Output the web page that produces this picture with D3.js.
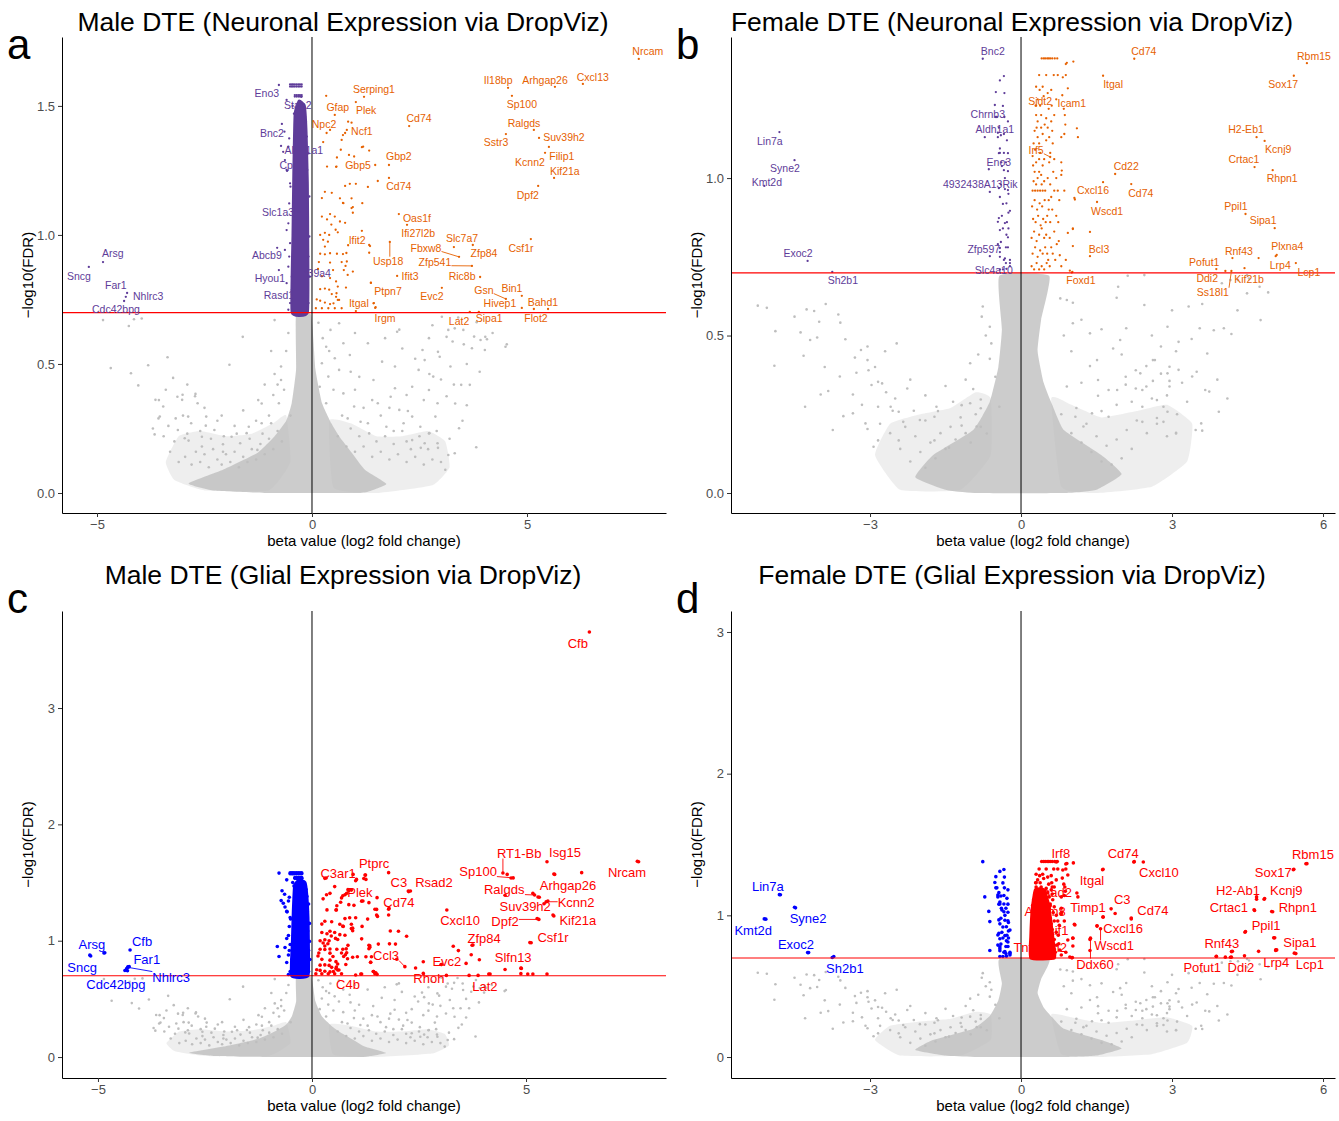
<!DOCTYPE html>
<html lang="en">
<head>
<meta charset="utf-8">
<title>DTE volcano plots</title>
<style>
  body { margin: 0; background: #fff; }
  svg { font-family: "Liberation Sans", Arial, sans-serif; }
  .tick text { fill: #4d4d4d; font-size: 13px; font-family: "Liberation Sans", Arial, sans-serif; }
  .tick line { stroke: #333; }
  .domain { stroke: #000; }
</style>
</head>
<body>
<script src="https://d3js.org/d3.v7.min.js"></script>
<script>

// ************** Data **************************************
var fdrCut = 0.2;

// male: genes not significant (grey)
var maleGrey = [
  [-4.86,0.67],[-4.26,0.647],[-4.14,0.673],[-3.96,0.676],[-3.36,0.526],[-3.81,0.495],[-4.68,0.484],[-4.21,0.464],
  [-3.23,0.446],[-4.04,0.417],[-1.92,0.497],[-3.56,0.36],[-3.46,0.335],[-3.13,0.373],[-3.01,0.381],[-2.71,0.384],
  [-2.66,0.348],[-3.54,0.296],[-3.34,0.26],[-3.66,0.227],[-2.88,0.296],[-2.81,0.27],[-3.12,0.244],[-2.46,0.296],
  [-2.27,0.244],[-2.56,0.218],[-2.96,0.212],[-1.87,0.218],[-1.47,0.257],[-1.17,0.27],[-0.77,0.348],[-0.72,0.438],
  [-0.87,0.67],[-0.72,0.49],[-1.27,0.167],[-1.67,0.193],[-2.07,0.16],[-2.56,0.18],[-1.61,0.605],[-3.64,0.361],
  [-3.57,0.289],[-3.17,0.289],[-3.02,0.361],[-2.72,0.375],[-2.87,0.203],[-2.47,0.261],[-2.07,0.189],[-1.52,0.232],
  [-1.17,0.347],[-0.87,0.461],[-0.55,0.62],[-0.6,0.55],[-0.65,0.40],[-0.5,0.30],[-1.0,0.30],[-1.3,0.28],
  [-1.8,0.26],[-2.2,0.28],[-0.95,0.55],[-1.1,0.42],
  [-2.95,0.14],[-2.8,0.11],[-2.7,0.16],[-2.6,0.12],[-2.5,0.15],[-2.4,0.10],[-2.3,0.17],[-2.2,0.13],[-2.1,0.11],
  [-2.0,0.15],[-1.9,0.12],[-1.8,0.16],[-1.7,0.10],[-1.6,0.14],[-1.5,0.12],[-1.4,0.17],[-1.3,0.13],[-1.2,0.19],
  [-1.1,0.15],[-1.0,0.21],[-0.9,0.17],[-0.8,0.24],[-0.7,0.2],[-3.2,0.2],[-3.3,0.16],[-3.1,0.12],[-2.9,0.23],
  [-2.6,0.24],[-2.35,0.21],[-2.05,0.22],[-1.75,0.23],[-1.45,0.21],[-1.15,0.23],[-0.95,0.27],[-3.45,0.22],
  [-3.7,0.25],[-3.0,0.30],[-2.5,0.33],[-2.1,0.30],[-1.6,0.32],[-1.25,0.36],[-0.9,0.38],[-0.8,0.42],[-3.4,0.40],
  [-2.9,0.42],
  [1.98,0.625],[3.02,0.683],[3.17,0.632],[3.32,0.638],[3.52,0.632],[3.77,0.606],[3.92,0.593],[4.07,0.596],
  [3.72,0.561],[4.02,0.554],[4.5,0.567],[3.27,0.587],[2.72,0.6],[2.57,0.554],[2.62,0.515],[2.97,0.528],
  [3.22,0.49],[3.67,0.419],[3.47,0.419],[2.82,0.451],[2.72,0.399],[2.92,0.348],[2.87,0.296],[3.42,0.251],
  [3.82,0.177],[3.32,0.154],[3.17,0.147],[2.92,0.193],[1.63,0.509],[1.43,0.438],[1.93,0.406],[1.83,0.373],
  [1.53,0.348],[2.33,0.412],[2.48,0.477],[2.03,0.322],[2.33,0.296],[2.13,0.27],[2.52,0.257],[2.72,0.231],
  [2.62,0.193],[2.33,0.205],[1.73,0.257],[1.33,0.231],[1.13,0.276],[0.83,0.289],[0.98,0.335],[0.73,0.386],
  [0.63,0.477],[0.88,0.535],[0.73,0.58],[0.43,0.632],[0.63,0.658],[0.33,0.567],[0.53,0.522],[0.23,0.503],
  [0.38,0.451],[0.18,0.412],[0.33,0.348],[2.03,0.633],[1.93,0.49],[2.23,0.318],[2.73,0.461],[2.93,0.547],
  [3.13,0.605],[3.53,0.576],[3.83,0.662],[4.03,0.605],[4.53,0.576],[3.33,0.347],[3.13,0.375],[2.93,0.175],
  [2.73,0.232],[2.53,0.175],[0.15,0.66],[0.25,0.60],[0.4,0.55],[0.5,0.40],[0.7,0.30],[1.0,0.40],
  [1.2,0.33],[1.6,0.30],[1.9,0.24],[2.2,0.20],
  [0.6,0.22],[0.8,0.18],[1.0,0.16],[1.2,0.18],[1.4,0.14],[1.6,0.16],[1.8,0.13],[2.0,0.15],[2.2,0.12],[2.4,0.14],
  [2.6,0.11],[2.8,0.13],[1.1,0.22],[1.5,0.20],[1.9,0.19],[2.3,0.17],[2.7,0.17],[3.0,0.12],[3.1,0.09],[0.9,0.25],
  [1.3,0.27],[1.7,0.22],[2.1,0.24],[2.5,0.22],[2.9,0.24],[3.2,0.21],[3.5,0.28],[3.6,0.34],[3.3,0.42],[3.0,0.44],
  [2.6,0.36],[2.2,0.38],[1.8,0.33],[1.4,0.36],[1.1,0.45],[0.9,0.47],[2.4,0.52],[2.1,0.56],[1.7,0.60],[1.3,0.58],
  [1.0,0.62],[3.6,0.50],[3.9,0.47],[4.2,0.62],[3.4,0.68],[2.8,0.65]
];
// male: outline of the solid grey mass and of the lighter wings
var maleCore = [[-0.37,0.69],[-0.02,0.69],[0.08,0.48],[0.23,0.35],[0.45,0.27],[0.63,0.22],[0.93,0.155],[1.23,0.09],
  [1.73,0.035],[1.3,0.005],[1.02,0.0],[-0.93,0.0],[-2.3,0.01],[-2.87,0.037],[-2.07,0.09],[-1.27,0.155],
  [-0.87,0.22],[-0.6,0.28],[-0.47,0.35],[-0.37,0.48]];
var maleHalo = [
  [[-3.4,0.12],[-3.1,0.22],[-2.6,0.24],[-2.0,0.22],[-1.4,0.23],[-0.9,0.27],[-0.6,0.3],[-0.5,0.12],[-1.0,0.01],
   [-2.5,0.01],[-3.2,0.05]],
  [[0.4,0.28],[0.9,0.27],[1.5,0.22],[2.1,0.22],[2.7,0.24],[3.1,0.2],[3.2,0.1],[2.8,0.03],[1.5,0.0],[0.5,0.02]]
];

// male: down-regulated column (dense part outline + separate points)
var maleDownShape = [[-0.47,0.70],[-0.10,0.70],[-0.09,0.95],[-0.10,1.20],[-0.13,1.40],[-0.17,1.50],[-0.30,1.52],
  [-0.40,1.47],[-0.43,1.25],[-0.45,1.0]];
var maleDown = [
  [-0.51,1.583],[-0.47,1.583],[-0.44,1.583],[-0.40,1.583],[-0.36,1.583],[-0.32,1.583],[-0.28,1.583],[-0.24,1.583],
  [-0.51,1.575],[-0.47,1.575],[-0.44,1.575],[-0.40,1.575],[-0.36,1.575],[-0.32,1.575],[-0.28,1.575],[-0.24,1.575],
  [-0.40,1.542],[-0.36,1.542],[-0.32,1.542],[-0.28,1.542],[-0.24,1.542],[-0.40,1.536],[-0.36,1.536],[-0.32,1.536],
  [-0.28,1.536],[-0.24,1.536],[-0.64,1.40],[-0.53,1.374],[-0.55,1.342],[-0.67,1.322],[-0.63,1.29],[-0.59,1.252],
  [-0.51,1.20],[-0.50,1.187],[-0.53,1.122],[-0.55,1.045],[-0.59,1.019],[-0.51,0.968],[-0.63,0.942],[-0.53,0.916],
  [-0.55,0.877],[-0.47,0.838],[-0.59,0.813],[-0.47,0.787],[-0.51,0.736],[-0.55,0.710],[-0.36,0.703],[-0.08,1.316],
  [-0.11,1.252],[-0.06,1.149],[-0.10,1.084],[-0.06,0.994],[-0.08,0.916],[-0.05,0.838],[-0.08,0.736],[-0.16,1.458],
  [-0.12,1.381],[-0.59,1.523],[-0.45,1.50],[-0.20,1.50],[-0.42,1.47],[-0.14,1.44]
];
// male: up-regulated points near zero (unlabelled)
var maleUp = [
  [0.53,1.465],[0.84,1.439],[0.92,1.435],[0.72,1.387],[0.34,1.395],[0.26,1.360],[0.69,1.368],[1.19,1.342],
  [1.33,1.327],[0.86,1.310],[0.35,1.265],[0.56,1.264],[0.77,1.190],[0.88,1.198],[1.02,1.198],[1.30,1.186],
  [1.53,1.209],[0.30,1.167],[0.46,1.163],[0.23,1.143],[0.72,1.124],[0.95,1.108],[0.23,1.071],[0.42,1.081],
  [0.53,1.071],[0.65,1.052],[0.77,1.047],[0.19,1.000],[0.30,1.008],[0.26,0.981],[0.37,0.974],[0.30,0.955],
  [1.33,0.961],[0.19,0.927],[0.30,0.925],[0.42,0.929],[0.58,0.927],[0.72,0.926],[0.81,0.897],[0.69,0.895],
  [0.42,0.893],[0.16,0.895],[0.49,0.864],[0.74,0.864],[0.95,0.858],[0.14,0.868],[0.23,0.840],[0.42,0.833],
  [0.56,0.820],[0.60,0.800],[0.19,0.790],[0.30,0.792],[0.40,0.788],[0.46,0.771],[0.56,0.760],[0.63,0.748],
  [0.11,0.750],[0.19,0.745],[0.30,0.738],[0.42,0.732],[0.09,0.716],[0.23,0.716],[0.38,0.716],[0.53,0.716],
  [0.69,0.716],[1.02,0.705],[1.48,0.720],[0.77,1.395],[0.67,1.330],[0.58,1.300],[1.16,1.340],[0.98,1.304],
  [0.57,1.265],[0.65,1.142],[0.73,1.123],[0.92,1.142],[0.92,1.104],[1.17,1.123],[0.95,1.086],[0.35,1.060],
  [0.45,1.040],[0.55,1.020],[0.40,1.000],[0.60,1.010],[1.35,0.957],[1.33,0.931],[0.84,0.960],[0.80,0.930],
  [0.78,0.880],[0.83,0.845],[1.37,0.815],[0.79,0.796],[0.57,0.774],[0.60,0.748],[0.50,0.735],[1.43,0.735]
];
// male: extra up-regulated points seen only in the glial panel
var maleUpGlial = [
  [2.25,1.427],[1.52,1.370],[1.51,1.269],[1.51,1.221],[1.95,0.971],[2.60,0.819],[2.60,0.719],[4.16,0.713],
  [5.04,0.713],[3.60,0.805],[3.14,0.702],[0.30,1.536],[1.04,1.527],[1.25,1.564],[1.26,1.527],[1.35,0.943],
  [1.39,0.862],[1.26,0.862],[1.06,0.862],[1.14,0.713],[1.49,0.725],[1.52,0.711],[1.55,0.971],[1.83,1.083]
];

// female: genes not significant (grey)
var femaleGrey = [
  [-5.23,0.595],[-5.05,0.588],[-4.88,0.514],[-4.90,0.404],[-4.38,0.51],[-4.32,0.436],[-4.26,0.583],[-4.11,0.578],
  [-4.01,0.544],[-4.19,0.486],[-4.05,0.494],[-3.88,0.60],[-3.63,0.567],[-3.59,0.541],[-3.49,0.488],[-3.98,0.313],
  [-3.83,0.324],[-4.29,0.274],[-3.74,0.20],[-3.53,0.244],[-3.34,0.313],[-3.27,0.382],[-3.18,0.454],[-3.05,0.465],
  [-3.05,0.422],[-3.03,0.39],[-2.97,0.343],[-2.84,0.353],[-2.76,0.348],[-2.47,0.475],[-2.26,0.332],[-2.84,0.274],
  [-2.59,0.274],[-2.43,0.258],[-3.09,0.221],[-2.93,0.147],[-3.34,0.253],[-1.68,0.274],[-1.72,0.242],[-2.01,0.232],
  [-1.18,0.279],[-1.01,0.412],[-0.80,0.269],[-0.76,0.592],[-0.78,0.56],[-0.62,0.528],[-0.59,0.475],[-0.51,0.369],
  [-0.88,0.211],[-0.68,0.189],[-0.43,0.274],[-3.16,0.28],[-2.68,0.32],[-2.55,0.261],[-2.34,0.226],[-2.13,0.261],
  [-3.05,0.203],[-2.84,0.167],[-2.43,0.167],[-1.72,0.167],[-0.62,0.426],[-1.01,0.285],[-1.18,0.214],[-0.8,0.297],
  [-1.43,0.144],
  [-2.2,0.10],[-2.0,0.13],[-1.9,0.08],[-1.8,0.16],[-1.7,0.11],[-1.6,0.19],[-1.5,0.14],[-1.4,0.21],[-1.3,0.17],
  [-1.2,0.24],[-1.1,0.19],[-1.0,0.16],[-0.9,0.25],[-0.8,0.21],[-2.4,0.14],[-2.6,0.19],[-2.3,0.21],[-2.1,0.18],
  [-1.9,0.23],[-1.65,0.26],[-1.35,0.29],[-2.8,0.22],[-2.5,0.30],[-2.2,0.36],[-1.9,0.31],[-1.5,0.34],[-1.1,0.36],
  [-0.85,0.44],[-0.7,0.50],[-3.6,0.37],[-3.3,0.43],[-2.9,0.40],[-2.7,0.45],[-3.9,0.40],[-4.5,0.56],[-0.95,0.33],
  [1.03,0.539],[0.78,0.618],[0.91,0.613],[1.03,0.604],[1.93,0.655],[2.45,0.597],[2.09,0.523],[2.12,0.690],
  [1.83,0.459],[1.97,0.486],[1.37,0.507],[1.51,0.422],[1.53,0.359],[1.74,0.327],[2.08,0.369],[2.28,0.39],
  [2.37,0.38],[2.41,0.327],[2.49,0.338],[2.62,0.422],[2.66,0.422],[2.78,0.465],[2.91,0.528],[2.95,0.401],
  [2.91,0.38],[2.95,0.338],[3.13,0.48],[3.33,0.592],[3.39,0.489],[3.55,0.523],[3.83,0.517],[4.03,0.523],
  [4.18,0.505],[3.70,0.443],[3.49,0.385],[3.66,0.327],[3.74,0.322],[3.93,0.258],[3.58,0.221],[3.47,0.20],
  [3.60,0.198],[3.08,0.189],[4.49,0.634],[4.74,0.655],[4.91,0.637],[4.76,0.549],[2.45,0.692],[3.99,0.666],
  [4.16,0.676],[4.53,0.681],[4.49,0.692],[4.31,0.676],[2.91,0.258],[2.70,0.295],[2.83,0.274],[2.41,0.274],
  [1.91,0.327],[1.74,0.242],[1.41,0.253],[1.24,0.211],[1.08,0.242],[0.91,0.338],[2.49,0.403],[3.08,0.45],
  [3.13,0.391],[2.62,0.356],[2.78,0.379],[2.95,0.356],[2.28,0.332],[2.08,0.344],[1.53,0.309],[1.37,0.403],
  [2.41,0.226],[3.08,0.191],[2.70,0.238],[2.83,0.226],
  [0.8,0.25],[1.0,0.19],[1.2,0.16],[1.4,0.13],[1.6,0.10],[1.8,0.09],[2.0,0.11],[2.2,0.14],[1.1,0.27],[1.3,0.22],
  [1.5,0.18],[1.7,0.15],[1.9,0.17],[2.1,0.2],[2.3,0.23],[2.5,0.19],[2.7,0.22],[2.9,0.18],[3.1,0.25],[3.3,0.29],
  [1.6,0.26],[1.9,0.28],[2.2,0.29],[2.6,0.30],[2.9,0.31],[3.2,0.35],[3.4,0.37],[1.2,0.35],[1.0,0.45],[0.85,0.50],
  [1.2,0.55],[1.6,0.52],[2.0,0.44],[2.6,0.50],[3.0,0.58],[3.6,0.60],[3.9,0.36],[4.1,0.30],[4.3,0.58],[1.9,0.62]
];
var femaleCore = [[-0.43,0.69],[0.56,0.69],[0.40,0.55],[0.33,0.45],[0.45,0.35],[0.62,0.28],[0.85,0.2],[1.6,0.12],
  [2.0,0.06],[1.5,0.01],[0.91,0.0],[-0.93,0.0],[-1.5,0.01],[-2.1,0.05],[-1.75,0.12],[-0.95,0.2],[-0.62,0.29],
  [-0.45,0.4],[-0.38,0.52]];
var femaleHalo = [
  [[-2.9,0.12],[-2.6,0.22],[-2.0,0.25],[-1.4,0.27],[-0.9,0.32],[-0.6,0.3],[-0.6,0.12],[-1.2,0.01],[-2.4,0.01]],
  [[0.6,0.30],[1.0,0.28],[1.6,0.24],[2.3,0.26],[2.9,0.28],[3.4,0.22],[3.3,0.10],[2.6,0.02],[1.5,0.0],[0.8,0.02]]
];

var femaleDown = [
  [-0.34,1.324],[-0.50,1.273],[-0.52,1.232],[-0.36,1.229],[-0.48,1.194],[-0.33,1.194],[-0.46,1.13],[-0.40,1.136],
  [-0.34,1.14],[-0.44,1.079],[-0.26,1.079],[-0.64,1.028],[-0.34,1.025],[-0.26,1.022],[-0.44,0.968],[-0.32,0.965],
  [-0.26,0.962],[-0.29,0.92],[-0.25,0.89],[-0.44,0.873],[-0.32,0.857],[-0.25,0.84],[-0.42,0.835],[-0.29,0.82],
  [-0.40,0.797],[-0.26,0.78],[-0.62,0.752],[-0.42,0.75],[-0.32,0.745],[-0.22,0.74],[-0.42,0.71],[-0.29,0.712],
  [-0.46,1.144],[-0.42,1.094],[-0.34,1.08],[-0.38,1.038],[-0.32,1.0],[-0.42,0.94],[-0.36,0.918],[-0.22,0.896],
  [-0.46,0.861],[-0.36,0.84],[-0.26,0.812],[-0.42,0.765],[-0.34,0.74],[-0.22,0.72],[-0.36,0.71],[-0.30,0.78],
  [-0.28,0.86],[-0.40,0.98],[-0.30,1.05],[-0.44,1.16],[-0.28,1.12],[-0.38,0.88],[-0.25,0.95],[-0.33,1.27],
  [-0.42,1.31],[-0.30,0.73],[-0.46,0.79],[-0.26,1.18],[-0.39,1.05]
];
// female: dense part of the up-regulated column (it merges into a block with the larger glial dots)
var femaleUpShape = [[0.20,0.70],[0.66,0.70],[0.64,0.80],[0.59,0.95],[0.54,1.08],[0.45,1.18],[0.29,1.18],
  [0.23,1.05],[0.20,0.85]];
var femaleUp = [
  [0.41,1.38],[0.45,1.38],[0.48,1.38],[0.52,1.38],[0.55,1.38],[0.58,1.38],[0.62,1.38],[0.67,1.38],[0.72,1.38],
  [0.91,1.366],[0.36,1.327],[0.50,1.327],[0.65,1.327],[0.73,1.327],[0.89,1.327],[0.30,1.29],[0.37,1.28],
  [0.43,1.29],[0.53,1.27],[0.60,1.28],[0.45,1.26],[0.33,1.25],[0.30,1.20],[0.33,1.18],[0.40,1.20],[0.50,1.19],
  [0.60,1.18],[0.66,1.20],[0.88,1.17],[0.85,1.22],[0.27,1.15],[0.33,1.13],[0.36,1.11],[0.43,1.14],[0.50,1.12],
  [0.56,1.13],[0.63,1.11],[0.80,1.13],[0.86,1.14],[0.23,1.07],[0.30,1.05],[0.36,1.06],[0.43,1.04],[0.66,1.06],
  [0.80,1.05],[0.27,1.02],[0.33,1.00],[0.40,1.01],[0.46,0.99],[0.70,1.00],[0.80,1.01],[0.23,0.96],[0.28,0.96],
  [0.33,0.96],[0.38,0.96],[0.43,0.96],[0.48,0.96],[0.66,0.96],[0.73,0.96],[0.86,0.96],[0.55,0.93],[0.62,0.90],
  [0.70,0.88],[0.58,0.86],[0.66,0.83],[0.75,0.80],[0.60,0.78],[0.52,0.76],[0.68,0.74],[0.57,0.72],[0.80,0.72],
  [0.89,0.74],[1.03,0.838],[1.37,0.829],[1.01,0.70],[1.06,0.937],[0.89,1.362],[1.04,1.37],[0.83,1.32],
  [0.93,1.285],[0.87,1.2],[1.11,1.158],[1.13,1.13],[0.81,1.024],[1.07,0.932],[1.03,0.84],[1.03,0.784],
  [0.93,0.826],[0.77,0.755],[0.97,0.706],[4.20,0.746],[0.56,1.05],[0.53,1.00],[0.58,0.98],[0.55,0.90],
  [0.50,0.82],[0.54,0.74],[0.62,1.15],[0.70,1.25],
  [0.21,0.72],[0.26,0.71],[0.31,0.73],[0.36,0.71],[0.41,0.72],[0.46,0.71],[0.51,0.73],[0.23,0.76],[0.28,0.78],
  [0.33,0.75],[0.38,0.77],[0.43,0.76],[0.48,0.78],[0.21,0.81],[0.26,0.83],[0.31,0.80],[0.36,0.82],[0.41,0.84],
  [0.46,0.81],[0.24,0.87],[0.29,0.86],[0.34,0.88],[0.39,0.85],[0.44,0.87],[0.49,0.86],[0.22,0.91],[0.27,0.93],
  [0.32,0.90],[0.37,0.92],[0.42,0.91],[0.47,0.93],[0.25,0.99],[0.30,0.98],[0.36,1.02],[0.41,0.98],[0.24,1.04],
  [0.28,1.09],[0.38,1.08],[0.46,1.06],[0.25,1.11],[0.31,1.16],[0.40,1.16],[0.47,1.17],[0.53,1.16],[0.29,1.23],
  [0.38,1.23],[0.55,1.22],[0.61,1.23],[0.58,1.08],[0.64,1.02],[0.60,0.94],[0.52,0.88],[0.57,0.81],[0.63,0.76],
  [0.71,0.79],[0.74,0.86],[0.76,0.93]
];

// labelled genes: [gene, beta, -log10(FDR)]
var genesA = [
  ["Nrcam",7.60,1.682],["Cxcl13",6.30,1.585],["Arhgap26",5.65,1.574],["Il18bp",4.56,1.570],["Sp100",4.65,1.539],
  ["Ralgds",5.16,1.407],["Sstr3",4.51,1.391],["Suv39h2",5.28,1.376],["Filip1",5.51,1.341],["Kcnn2",5.42,1.318],
  ["Kif21a",5.63,1.221],["Dpf2",5.26,1.190],["Csf1r",5.09,0.984],["Serping1",1.21,1.535],["Gfap",0.33,1.539],
  ["Plek",1.02,1.515],["Npc2",0.42,1.407],["Ncf1",0.81,1.407],["Cd74",2.26,1.422],["Gbp2",1.79,1.271],
  ["Gbp5",1.47,1.271],["Cd74",1.79,1.221],["Oas1f",2.02,1.081],["Ifi27l2b",2.21,1.039],["Ifit2",1.16,1.016],
  ["Usp18",1.81,0.973],["Slc7a7",3.30,0.953],["Fbxw8",3.42,0.915],["Zfp84",3.74,0.961],["Zfp541",3.72,0.880],
  ["Ric8b",3.91,0.837],["Ifit3",1.98,0.841],["Ptpn7",1.37,0.814],["Evc2",3.02,0.795],["Gsn",4.51,0.752],
  ["Bin1",4.88,0.764],["Hivep1",4.88,0.717],["Bahd1",5.16,0.713],["Flot2",5.49,0.713],["Sipa1",3.88,0.702],
  ["Lat2",3.67,0.702],["Itgal",1.44,0.736],["Irgm",1.47,0.717],
  ["Eno3",-0.77,1.581],["Stap2",-0.25,1.535],["Bnc2",-0.70,1.430],["Aldh1a1",-0.72,1.345],["Cpox",-0.58,1.248],
  ["Slc1a3",-0.30,1.089],["Abcb9",-0.81,0.950],["Hyou1",-0.77,0.864],["Slc39a4",-0.15,0.860],["Rasd1",-0.47,0.771],
  ["Arsg",-4.86,0.895],["Sncg",-5.19,0.876],["Far1",-4.30,0.775],["Nhlrc3",-4.33,0.760],["Cdc42bpg",-4.37,0.744]
];
var genesB = [
  ["Bnc2",-0.76,1.379],["Lin7a",-4.80,1.146],["Syne2",-4.50,1.057],["Kmt2d",-5.10,0.975],["Exoc2",-4.24,0.737],
  ["Sh2b1",-3.75,0.702],["Chrnb3",-0.50,1.194],["Aldh1a1",-0.72,1.130],["Eno3",-0.42,1.080],
  ["4932438A13Rik",-0.62,0.956],["Zfp597",-0.42,0.778],["Slc4a10",-0.22,0.730],["Sidt2",0.30,1.230],
  ["Icam1",0.82,1.263],["Irf5",0.58,1.067],["Cd74",2.25,1.379],["Itgal",1.63,1.325],["Cd22",1.87,1.013],
  ["Cd74",2.19,0.981],["Cxcl16",1.63,0.987],["Wscd1",1.51,0.924],["Bcl3",1.37,0.752],["Foxd1",1.02,0.702],
  ["Rbm15",5.68,1.365],["Sox17",5.42,1.325],["H2-Eb1",4.68,1.130],["Kcnj9",4.84,1.118],["Crtac1",4.64,1.035],
  ["Rhpn1",5.00,1.025],["Ppil1",4.46,0.886],["Sipa1",5.04,0.841],["Plxna4",5.08,0.756],["Lrp4",5.06,0.752],
  ["Lcp1",5.46,0.730],["Rnf43",4.72,0.746],["Pofut1",3.88,0.711],["Ddi2",4.06,0.705],["Ss18l1",4.18,0.705],
  ["Kif21b",4.44,0.714]
];
var genesC = [
  ["Cfb",6.48,3.654],["Nrcam",7.63,1.679],["Isg15",5.49,1.679],["RT1-Bb",4.46,1.582],["Sp100",4.70,1.540],
  ["Arhgap26",5.67,1.570],["Ralgds",5.20,1.393],["Suv39h2",5.31,1.373],["Kcnn2",5.47,1.335],["Kif21a",5.65,1.212],
  ["Dpf2",5.30,1.183],["Csf1r",5.12,0.983],["Zfp84",3.76,0.963],["Cxcl10",3.15,1.264],["Slfn13",4.89,0.762],
  ["Evc2",3.02,0.795],["Ccl3",2.17,0.777],["Rhoh",2.42,0.765],["Lat2",4.13,0.713],["C4b",1.16,0.713],
  ["C3",1.79,1.585],["Rsad2",2.30,1.427],["Cd74",1.80,1.278],["Plek",0.86,1.430],["Ptprc",1.24,1.564],
  ["C3ar1",0.96,1.570],["Arsg",-4.84,0.897],["Sncg",-5.17,0.868],["Cfb",-4.25,0.920],["Far1",-4.27,0.777],
  ["Nhlrc3",-4.30,0.771],["Cdc42bpg",-4.31,0.742]
];
var genesD = [
  ["Lin7a",-4.78,1.145],["Syne2",-4.48,1.053],["Kmt2d",-5.07,0.973],["Exoc2",-4.22,0.737],["Sh2b1",-3.72,0.709],
  ["Rbm15",5.66,1.364],["Sox17",5.41,1.322],["H2-Ab1",4.68,1.114],["Kcnj9",4.83,1.114],["Crtac1",4.63,1.039],
  ["Rhpn1",4.98,1.027],["Ppil1",4.45,0.881],["Sipa1",5.02,0.841],["Lrp4",5.06,0.756],["Lcp1",5.43,0.733],
  ["Rnf43",4.18,0.744],["Pofut1",3.88,0.709],["Ddi2",4.16,0.704],["Cd74",2.24,1.376],["Cxcl10",2.43,1.376],
  ["Itgal",1.62,1.322],["C3",1.79,1.046],["Cd74",2.19,0.975],["Timp1",1.63,0.990],["Cxcl16",1.51,0.926],
  ["Wscd1",1.58,0.905],["Ddx60",1.38,0.839],["Irf8",0.70,1.376],["Rsad2",0.62,1.200],["Adam8",0.55,1.000],
  ["Aif1",0.50,0.900],["Tnfaip8l2",0.40,0.800]
];

// ************** Label placement (same order as the gene lists) *****************
var labelA = [[7.81,1.713],[6.53,1.612],[5.42,1.601],[4.33,1.601],[4.88,1.508],[4.93,1.434],[4.28,1.357],[5.86,1.380],
  [5.81,1.306],[5.07,1.283],[5.88,1.248],[5.02,1.155],[4.86,0.950],[1.44,1.566],[0.60,1.496],[1.26,1.481],[0.28,1.430],
  [1.16,1.403],[2.49,1.450],[2.02,1.306],[1.07,1.271],[2.02,1.190],[2.44,1.066],[2.47,1.008],[1.05,0.981],[1.77,0.899],
  [3.49,0.988],[2.65,0.950],[4.00,0.930],[2.86,0.895],[3.49,0.841],[2.28,0.841],[1.77,0.783],[2.79,0.764],[4.00,0.787],
  [4.65,0.795],[4.37,0.736],[5.37,0.740],[5.21,0.678],[4.12,0.678],[3.42,0.667],[1.09,0.736],[1.70,0.678],
  [-1.05,1.550],[-0.33,1.504],[-0.93,1.395],[-0.19,1.329],[-0.47,1.271],[-0.79,1.089],[-1.05,0.922],[-0.98,0.833],
  [0.0,0.853],[-0.77,0.767],[-4.63,0.930],[-5.42,0.841],[-4.56,0.806],[-3.81,0.764],[-4.56,0.713]];
var labelB = [[-0.56,1.403],[-4.99,1.117],[-4.69,1.032],[-5.05,0.987],[-4.43,0.762],[-3.54,0.676],[-0.66,1.203],
  [-0.52,1.156],[-0.44,1.051],[-0.81,0.981],[-0.74,0.775],[-0.54,0.708],[0.38,1.244],[1.01,1.238],[0.30,1.089],
  [2.44,1.403],[1.83,1.298],[2.09,1.038],[2.38,0.952],[1.43,0.962],[1.71,0.895],[1.55,0.775],[1.19,0.676],[5.82,1.387],
  [5.21,1.298],[4.47,1.156],[5.11,1.092],[4.43,1.060],[5.19,1.000],[4.27,0.911],[4.81,0.867],[5.29,0.784],[5.15,0.724],
  [5.72,0.702],[4.33,0.768],[3.64,0.733],[3.70,0.683],[3.81,0.638],[4.53,0.679]];
var labelC = [[6.21,3.559],[7.36,1.590],[5.91,1.762],[4.84,1.754],[3.88,1.599],[5.98,1.479],[4.49,1.444],[4.98,1.298],
  [6.17,1.332],[6.21,1.178],[4.51,1.169],[5.63,1.032],[4.02,1.023],[3.46,1.178],[4.70,0.860],[3.15,0.825],[1.73,0.877],
  [2.73,0.679],[4.04,0.610],[0.84,0.628],[2.03,1.504],[2.85,1.504],[2.03,1.332],[1.12,1.418],[1.45,1.668],[0.61,1.582],
  [-5.14,0.971],[-5.37,0.774],[-3.97,0.997],[-3.86,0.842],[-3.29,0.688],[-4.58,0.628]];
var labelD = [[-5.03,1.207],[-4.23,0.981],[-5.32,0.896],[-4.47,0.798],[-3.50,0.628],[5.80,1.433],[5.01,1.306],
  [4.31,1.179],[5.27,1.179],[4.13,1.059],[5.50,1.059],[4.87,0.932],[5.54,0.812],[5.07,0.671],[5.74,0.656],[3.99,0.805],
  [3.60,0.635],[4.37,0.635],[2.03,1.440],[2.74,1.306],[1.41,1.249],[2.01,1.115],[2.62,1.038],[1.33,1.059],[2.03,0.904],
  [1.85,0.784],[1.47,0.656],[0.79,1.440],[0.64,1.165],[0.48,1.024],[0.72,0.896],[0.38,0.776]];
var segA = ["Usp18","Fbxw8","Zfp541","Gsn"];
var segB = ["Irf5","Ss18l1"];
var segC = ["RT1-Bb","Sp100","Ralgds","Kcnn2","Dpf2","Ccl3","Nhlrc3"];
var segD = ["Wscd1","Ddx60"];

// ************** Layout *****************
var PURPLE = "#5e3c99", ORANGE = "#e66101", BLUE = "#0000ff", RED = "#ff0000", GREY = "#bebebe";

var panels = [
  {letter: "a", title: "Male DTE (Neuronal Expression via DropViz)", cx: 343, ty: 31, lx: 7, ly: 59,
   left: 62, right: 666, top: 37, bottom: 513, xDom: [-5.814, 8.233], yDom: [-0.0775, 1.767],
   xTicks: [-5, 0, 5], yTicks: [0, 0.5, 1, 1.5], yFmt: ".1f", down: PURPLE, up: ORANGE, r: 1.15, fs: 10.5,
   grey: maleGrey, core: maleCore, halo: maleHalo, downShape: maleDownShape, downPts: maleDown,
   upShape: null, upPts: maleUp, extra: [], genes: genesA, labels: labelA, segs: segA},
  {letter: "b", title: "Female DTE (Neuronal Expression via DropViz)", cx: 1012, ty: 31, lx: 676, ly: 59,
   left: 731, right: 1335, top: 37, bottom: 513, xDom: [-5.762, 6.238], yDom: [-0.0635, 1.448],
   xTicks: [-3, 0, 3, 6], yTicks: [0, 0.5, 1], yFmt: ".1f", down: PURPLE, up: ORANGE, r: 1.15, fs: 10.5,
   grey: femaleGrey, core: femaleCore, halo: femaleHalo, downShape: null, downPts: femaleDown,
   upShape: null, upPts: femaleUp, extra: [], genes: genesB, labels: labelB, segs: segB},
  {letter: "c", title: "Male DTE (Glial Expression via DropViz)", cx: 343, ty: 584, lx: 7, ly: 613,
   left: 62, right: 666, top: 611, bottom: 1078, xDom: [-5.84, 8.27], yDom: [-0.18, 3.834],
   xTicks: [-5, 0, 5], yTicks: [0, 1, 2, 3], yFmt: "d", down: BLUE, up: RED, r: 1.8, fs: 13,
   grey: maleGrey, core: maleCore, halo: maleHalo, downShape: maleDownShape, downPts: maleDown,
   upShape: null, upPts: maleUp.concat(maleUpGlial), extra: genesA, genes: genesC, labels: labelC, segs: segC},
  {letter: "d", title: "Female DTE (Glial Expression via DropViz)", cx: 1012, ty: 584, lx: 676, ly: 613,
   left: 731, right: 1335, top: 611, bottom: 1078, xDom: [-5.762, 6.238], yDom: [-0.148, 3.148],
   xTicks: [-3, 0, 3, 6], yTicks: [0, 1, 2, 3], yFmt: "d", down: BLUE, up: RED, r: 1.8, fs: 13,
   grey: femaleGrey, core: femaleCore, halo: femaleHalo, downShape: null, downPts: femaleDown,
   upShape: femaleUpShape, upPts: femaleUp, extra: genesB, genes: genesD, labels: labelD, segs: segD}
];

var svg = d3.select("body").append("svg")
    .attr("width", 1339)
    .attr("height", 1121);

panels.forEach(drawPanel);

function drawPanel(p) {
    var x = d3.scaleLinear().domain(p.xDom).range([p.left, p.right]),
        y = d3.scaleLinear().domain(p.yDom).range([p.bottom, p.top]);
    var g = svg.append("g");
    var clipId = "clip-" + p.letter;
    g.append("clipPath").attr("id", clipId).append("rect")
        .attr("x", p.left).attr("y", p.top)
        .attr("width", p.right - p.left).attr("height", p.bottom - p.top);
    var plot = g.append("g").attr("clip-path", "url(#" + clipId + ")");
    var shape = d3.line().x(function(d) { return x(d[0]); }).y(function(d) { return y(d[1]); })
        .curve(d3.curveCardinalClosed.tension(0.6));

    function dots(data, color, r) {
        plot.append("g").selectAll("circle")
            .data(data)
            .enter().append("circle")
            .attr("cx", function(d) { return x(d[0]); })
            .attr("cy", function(d) { return y(d[1]); })
            .attr("r", r)
            .attr("fill", color);
    }
    function solid(pts, color, r) {
        plot.append("path").attr("d", shape(pts))
            .attr("fill", color).attr("stroke", color)
            .attr("stroke-width", 2 * r).attr("stroke-linejoin", "round");
    }

    // grey cloud
    p.halo.forEach(function(h) {
        plot.append("path").attr("d", shape(h))
            .attr("fill", GREY).attr("fill-opacity", 0.26);
    });
    plot.append("path").attr("d", shape(p.core))
        .attr("fill", GREY).attr("fill-opacity", 0.78);
    dots(p.grey, GREY, 1.3);

    // significant genes
    if (p.downShape) solid(p.downShape, p.down, p.r);
    if (p.upShape) solid(p.upShape, p.up, p.r);
    dots(p.downPts, p.down, p.r);
    dots(p.upPts, p.up, p.r);
    var extra = p.extra.map(function(d) { return [d[1], d[2]]; });
    dots(extra.filter(function(d) { return d[0] < 0; }), p.down, p.r);
    dots(extra.filter(function(d) { return d[0] >= 0; }), p.up, p.r);
    var gpts = p.genes.map(function(d) { return [d[1], d[2]]; });
    dots(gpts.filter(function(d) { return d[0] < 0; }), p.down, p.r);
    dots(gpts.filter(function(d) { return d[0] >= 0; }), p.up, p.r);

    // threshold lines
    var cut = -Math.log10(fdrCut);
    g.append("line").attr("x1", p.left).attr("x2", p.right)
        .attr("y1", y(cut)).attr("y2", y(cut))
        .attr("stroke", RED).attr("stroke-width", 1.1);
    g.append("line").attr("x1", x(0)).attr("x2", x(0))
        .attr("y1", p.bottom).attr("y2", p.top)
        .attr("stroke", "#000").attr("stroke-width", 1);

    // axes
    var ax = g.append("g").attr("transform", "translate(0," + p.bottom + ")")
        .call(d3.axisBottom(x).tickValues(p.xTicks).tickSize(4).tickSizeOuter(0).tickPadding(3));
    var ay = g.append("g").attr("transform", "translate(" + p.left + ",0)")
        .call(d3.axisLeft(y).tickValues(p.yTicks).tickFormat(d3.format(p.yFmt))
            .tickSize(4).tickSizeOuter(0).tickPadding(3));
    [ax, ay].forEach(function(a) { a.attr("font-family", null).attr("font-size", null); });

    g.append("text")
        .attr("x", (p.left + p.right) / 2).attr("y", p.bottom + 33)
        .attr("text-anchor", "middle").attr("font-size", 15)
        .text("beta value (log2 fold change)");
    g.append("text")
        .attr("transform", "translate(" + (p.left - 34) + "," + ((p.top + p.bottom) / 2) + ") rotate(-90)")
        .attr("text-anchor", "middle").attr("dy", "0.35em").attr("font-size", 15)
        .text("\u2212log10(FDR)");

    g.append("text").attr("x", p.cx).attr("y", p.ty)
        .attr("text-anchor", "middle").attr("font-size", 26.5)
        .text(p.title);
    g.append("text").attr("x", p.lx).attr("y", p.ly)
        .attr("font-size", 42)
        .text(p.letter);

    // gene labels, with a segment where the label sits away from its point
    p.genes.forEach(function(d, i) {
        var col = d[1] < 0 ? p.down : p.up;
        var t = g.append("text")
            .attr("x", x(p.labels[i][0])).attr("y", y(p.labels[i][1]))
            .attr("dy", "0.35em").attr("text-anchor", "middle")
            .attr("font-size", p.fs).attr("fill", col)
            .text(d[0]);
        if (p.segs.indexOf(d[0]) >= 0) {
            var b = t.node().getBBox(),
                px = x(d[1]), py = y(d[2]),
                ex = Math.max(b.x, Math.min(px, b.x + b.width)),
                ey = Math.max(b.y + 2, Math.min(py, b.y + b.height - 2));
            g.append("line").attr("x1", px).attr("y1", py).attr("x2", ex).attr("y2", ey)
                .attr("stroke", col).attr("stroke-width", 0.9);
        }
    });
}

</script>
</body>
</html>
